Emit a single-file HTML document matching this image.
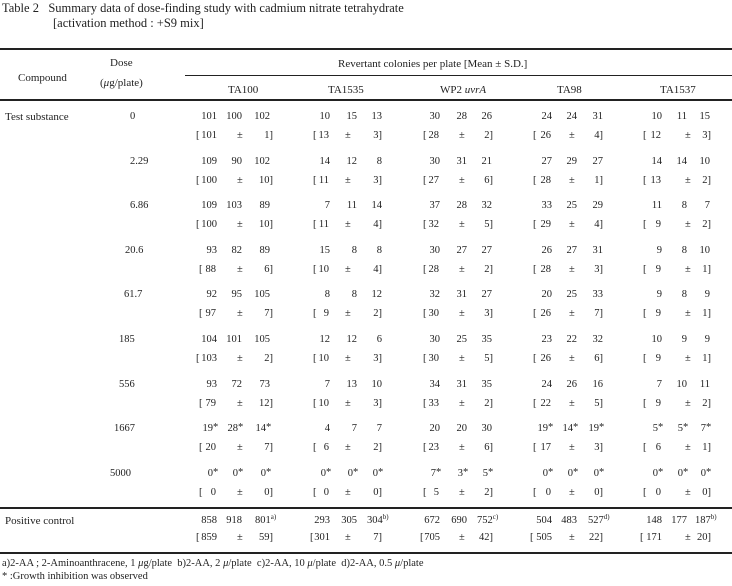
<!DOCTYPE html>
<html><head><meta charset="utf-8"><style>
body{margin:0;width:732px;height:586px;background:#fff;position:relative;overflow:hidden;font-family:"Liberation Serif",serif;color:#222;font-size:10.5px}
.t{position:absolute;white-space:nowrap;line-height:12px}
.r{position:absolute;white-space:nowrap;line-height:12px;text-align:right}
.h{position:absolute;left:0;width:732px;background:#222}
sup{font-size:7px;vertical-align:4px;line-height:0}
</style></head><body>
<div class="t" style="left:2px;top:2px;font-size:12.5px">Table 2&nbsp;&nbsp;&nbsp;Summary data of dose-finding study with cadmium nitrate tetrahydrate</div>
<div class="t" style="left:53px;top:17px;font-size:12.5px">[activation method : +S9 mix]</div>
<div class="h" style="top:48px;height:2px"></div>
<div class="h" style="top:75px;height:1px;left:185px;width:547px"></div>
<div class="h" style="top:99px;height:2px"></div>
<div class="h" style="top:507px;height:2px"></div>
<div class="h" style="top:552px;height:2px"></div>
<div class="t" style="left:18px;top:72px;font-size:11px">Compound</div>
<div class="t" style="left:110px;top:57px;font-size:11px">Dose</div>
<div class="t" style="left:100px;top:77px;font-size:11px">(<i>μ</i>g/plate)</div>
<div class="t" style="left:338px;top:58px;font-size:11px">Revertant colonies per plate [Mean ± S.D.]</div>
<div class="t" style="left:228px;top:84px;font-size:11px">TA100</div>
<div class="t" style="left:328px;top:84px;font-size:11px">TA1535</div>
<div class="t" style="left:440px;top:84px;font-size:11px">WP2 <i>uvrA</i></div>
<div class="t" style="left:557px;top:84px;font-size:11px">TA98</div>
<div class="t" style="left:660px;top:84px;font-size:11px">TA1537</div>
<div class="t" style="left:5px;top:111px;font-size:11px">Test substance</div>
<div class="t" style="left:5px;top:515px;font-size:11px">Positive control</div>
<div class="t" style="left:2px;top:558px">a)2-AA ; 2-Aminoanthracene, 1 <i>μ</i>g/plate&nbsp; b)2-AA, 2 <i>μ</i>/plate&nbsp; c)2-AA, 10 <i>μ</i>/plate&nbsp; d)2-AA, 0.5 <i>μ</i>/plate</div>
<div class="t" style="left:2px;top:571px">* :Growth inhibition was observed</div>
<div id="c"></div>
<script>
var doses=[["0",130],["2.29",130],["6.86",130],["20.6",125],["61.7",124],["185",119],["556",119],["1667",114],["5000",110]];
var rights=[[217,242,270],[330,357,382],[440,467,492],[552,577,603],[662,687,710]];
var br=[[199,240,273],[313,348,382],[423,462,493],[533,572,603],[643,688,711]];
var D=[
[["101","100","102",101,1],["109","90","102",100,10],["109","103","89",100,10],["93","82","89",88,6],["92","95","105",97,7],["104","101","105",103,2],["93","72","73",79,12],["19*","28*","14*",20,7],["0*","0*","0*",0,0],["858","918","801<sup>a)</sup>",859,59]],
[["10","15","13",13,3],["14","12","8",11,3],["7","11","14",11,4],["15","8","8",10,4],["8","8","12",9,2],["12","12","6",10,3],["7","13","10",10,3],["4","7","7",6,2],["0*","0*","0*",0,0],["293","305","304<sup>b)</sup>",301,7]],
[["30","28","26",28,2],["30","31","21",27,6],["37","28","32",32,5],["30","27","27",28,2],["32","31","27",30,3],["30","25","35",30,5],["34","31","35",33,2],["20","20","30",23,6],["7*","3*","5*",5,2],["672","690","752<sup>c)</sup>",705,42]],
[["24","24","31",26,4],["27","29","27",28,1],["33","25","29",29,4],["26","27","31",28,3],["20","25","33",26,7],["23","22","32",26,6],["24","26","16",22,5],["19*","14*","19*",17,3],["0*","0*","0*",0,0],["504","483","527<sup>d)</sup>",505,22]],
[["10","11","15",12,3],["14","14","10",13,2],["11","8","7",9,2],["9","8","10",9,1],["9","8","9",9,1],["10","9","9",9,1],["7","10","11",9,2],["5*","5*","7*",6,1],["0*","0*","0*",0,0],["148","177","187<sup>b)</sup>",171,20]]];
var h="";
function r(x,y,s){return '<div class="r" style="right:'+(732-x)+'px;top:'+y+'px">'+s+'</div>';}
function l(x,y,s){return '<div class="t" style="left:'+x+'px;top:'+y+'px">'+s+'</div>';}
for(var i=0;i<10;i++){
 var y=i<9?111+i*44.6:515;
 if(i<9)h+=l(doses[i][1],y,doses[i][0]);
 for(var c=0;c<5;c++){
  var d=D[c][i],R=rights[c],B=br[c];
  for(var k=0;k<3;k++){var s=d[k];
   if(s.indexOf("*")>=0){s=s.replace("*","");h+=r(R[k]-4,y,s)+l(R[k]-4,y-1,"*");}
   else if(s.indexOf("<sup>")>=0){h+=l(R[k]-15,y,s);}
   else h+=r(R[k],y,s);}
  var y2=y+(i<9?19:17);
  h+=l(B[0]-(d[3]>=100?3:0),y2,"[");
  h+=r(R[0]-(d[3]>=100?0:1),y2,String(d[3]));
  h+=l(B[1]-3,y2,"±");
  h+=r(B[2],y2,d[4]+"]");
 }
}
document.getElementById("c").innerHTML=h;
</script>
</body></html>
